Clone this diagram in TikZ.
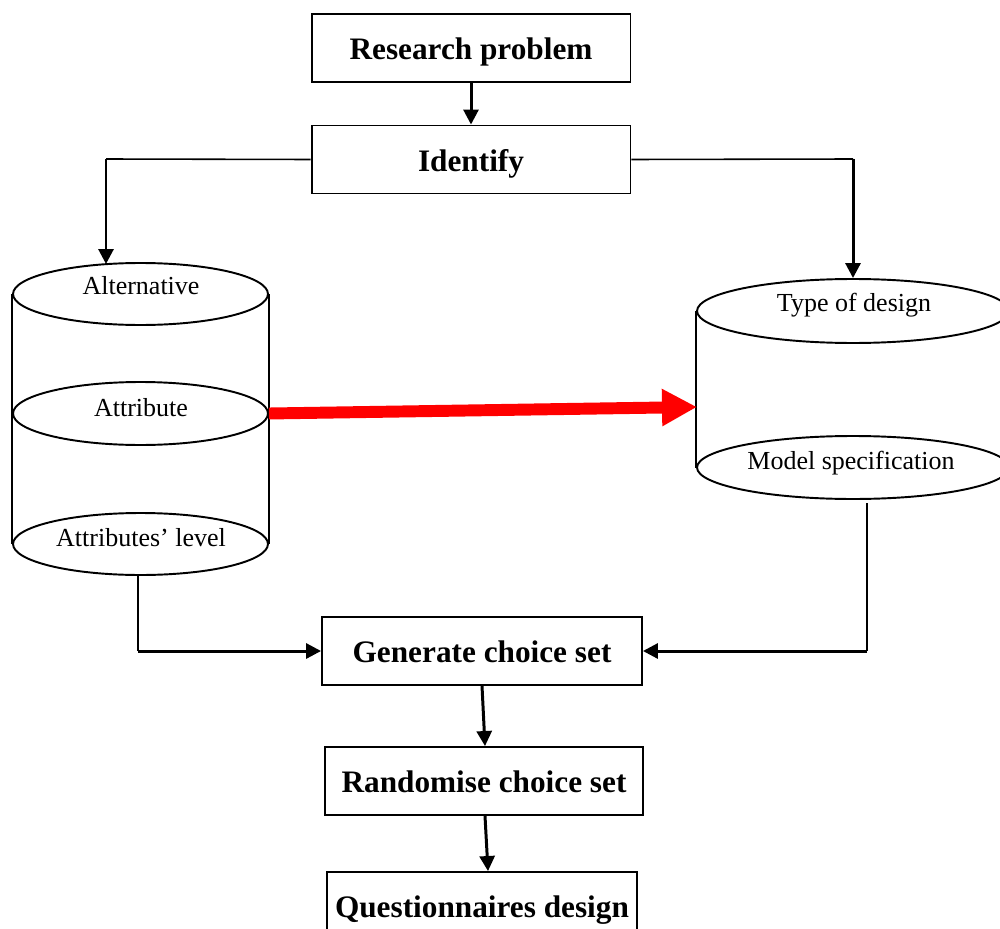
\documentclass[tikz,border=0pt]{standalone}
\usepackage{fontspec}
\setmainfont{Liberation Serif}
\usetikzlibrary{arrows.meta,shapes.geometric}
\begin{document}
\begin{tikzpicture}[x=0.02cm,y=-0.02cm,
  box/.style={draw,line width=1.1pt,minimum height=1.36cm,inner sep=0pt,
    font=\bfseries\fontsize{17.8}{20}\selectfont,text height=13.6pt,text depth=0pt},
  cyl/.style={draw,ellipse,line width=1.1pt,inner sep=0pt},
  lbl/.style={anchor=base,font=\fontsize{14.8}{17}\selectfont,inner sep=0pt},
  lnk/.style={line width=0.9pt},
  arr/.style={line width=1.7pt,-{Triangle[length=0.3cm,width=0.3cm]}},
  redarr/.style={red,line width=6.8pt,-{Triangle[length=0.7cm,width=0.7cm]}},
]
\useasboundingbox (0,0) rectangle (1000,929);
\clip (0,0) rectangle (1000,929);
\fill[white] (0,0) rectangle (1000,929);

% boxes
\node[box,minimum width=6.38cm] (rp) at (471,48) {Research problem};
\node[box,minimum width=6.38cm] (id) at (471,159.5) {Identify};
\node[box,minimum width=6.4cm] (gen) at (482,651) {Generate choice set};
\node[box,minimum width=6.36cm] (rand) at (484,781) {Randomise choice set};
\node[box,minimum width=6.2cm] (qd) at (482,906) {Questionnaires design};

% left cylinder
\node[cyl,minimum width=5.1cm,minimum height=1.24cm] (alt) at (140.5,294) {};
\node[cyl,minimum width=5.1cm,minimum height=1.26cm] (att) at (140.5,413.5) {};
\node[cyl,minimum width=5.1cm,minimum height=1.24cm] (lev) at (140.5,544) {};
\draw[line width=1.1pt] (alt.west) -- (lev.west) (alt.east) -- (lev.east);
\node[lbl] (altT) at (141,294) {Alternative};
\node[lbl] (attT) at (141,416) {Attribute};
\node[lbl] (levT) at (141,546) {Attributes’ level};

% right cylinder
\node[cyl,minimum width=6.24cm,minimum height=1.28cm] (tod) at (853,311) {};
\node[cyl,minimum width=6.24cm,minimum height=1.26cm] (ms) at (853,467.5) {};
\draw[line width=1.1pt] (tod.west) -- (ms.west) (tod.east) -- (ms.east);
\node[lbl] (todT) at (854,311) {Type of design};
\node[lbl] (msT) at (851,469) {Model specification};

% connectors
\draw[arr] (rp.south) -- (id.north);
\coordinate (c1) at (106,159);
\coordinate (c1e) at (106,264);
\draw[lnk] (id.west) -- (c1);
\draw[arr] (c1) -- (c1e);
\coordinate (c2) at (853,159);
\draw[lnk] (id.east) -- (c2);
\draw[arr] (c2) -- (tod.north);

\coordinate (rt) at (697,407);
\draw[redarr] (att.east) -- (rt);

\coordinate (c3) at (138,575);
\coordinate (c4) at (138,651);
\draw[lnk] (c3) -- (c4);
\draw[arr] (c4) -- (gen.west);
\coordinate (c5) at (867,503);
\coordinate (c6) at (867,651);
\draw[lnk] (c5) -- (c6);
\draw[arr] (c6) -- (gen.east);

\draw[arr] (gen.south) -- ([xshift=0.02cm]rand.north);
\draw[arr] ([xshift=0.02cm]rand.south) -- ([xshift=0.12cm]qd.north);
\end{tikzpicture}
\end{document}
